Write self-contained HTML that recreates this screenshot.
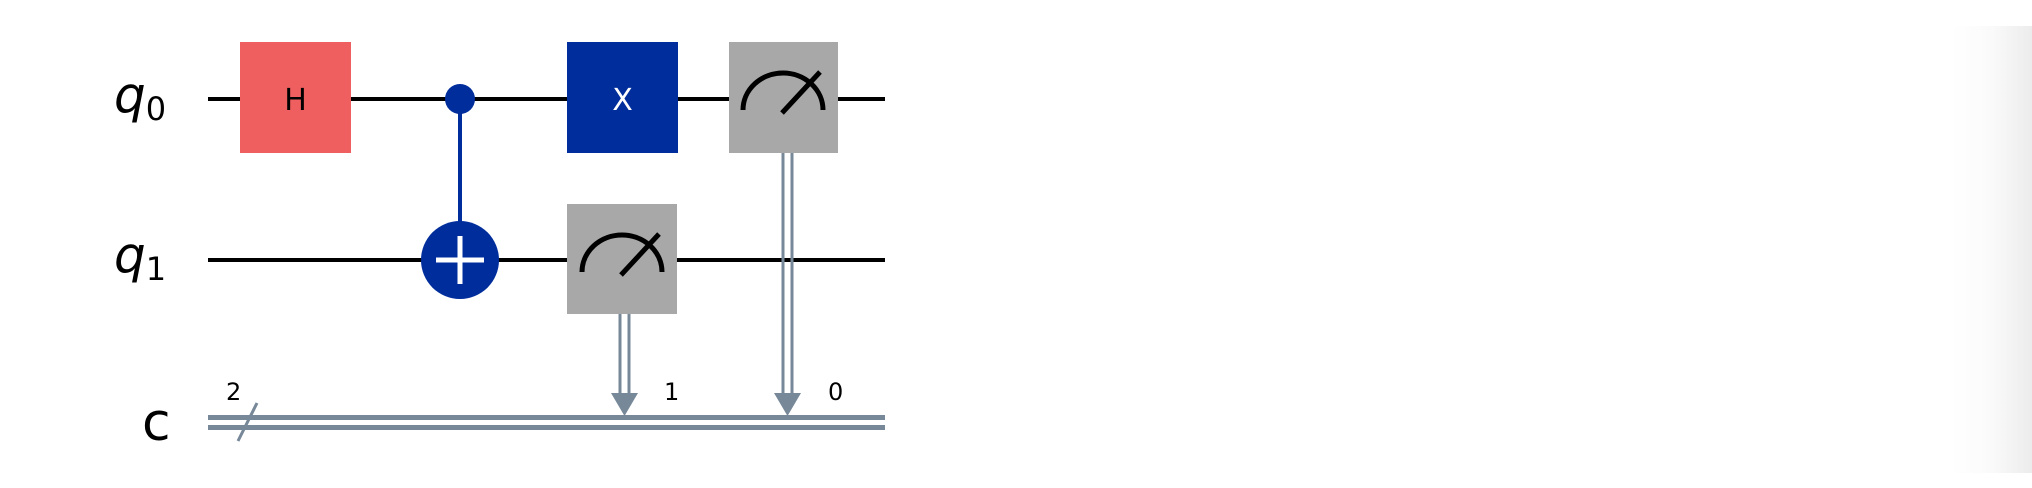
<!DOCTYPE html>
<html><head><meta charset="utf-8"><style>
html,body{margin:0;padding:0;background:#fff;width:2032px;height:488px;overflow:hidden}
svg{display:block}
text{font-family:"DejaVu Sans","Liberation Sans",sans-serif}
</style></head><body>
<svg width="2032" height="488" viewBox="0 0 2032 488">
<defs>
<linearGradient id="edge" x1="0" x2="1" y1="0" y2="0">
<stop offset="0" stop-color="#ffffff"/><stop offset="0.5" stop-color="#fafafa"/><stop offset="1" stop-color="#ececec"/>
</linearGradient>
</defs>
<rect x="1952" y="26" width="80" height="447" fill="url(#edge)"/>

<g>
<text x="114" y="112" font-size="50" font-style="italic">q<tspan font-size="32" font-style="normal" dy="8">0</tspan></text>
<text x="114" y="272" font-size="50" font-style="italic">q<tspan font-size="32" font-style="normal" dy="8">1</tspan></text>
<text x="142" y="440" font-size="52">c</text>
</g>

<line x1="208" y1="99" x2="885" y2="99" stroke="#000" stroke-width="4"/>
<line x1="208" y1="260" x2="885" y2="260" stroke="#000" stroke-width="4"/>
<g>
<line x1="208" y1="417.5" x2="885" y2="417.5" stroke="#778899" stroke-width="5"/>
<line x1="208" y1="427.5" x2="885" y2="427.5" stroke="#778899" stroke-width="5"/>
<line x1="238" y1="441" x2="257" y2="403" stroke="#778899" stroke-width="3"/>
<text x="226" y="400" font-size="24" fill="#000">2</text>
</g>

<g>
<rect x="240" y="42" width="111" height="111" fill="#ef5f5f"/>
<text x="295.5" y="110" font-size="30" text-anchor="middle" fill="#000">H</text>
</g>

<g>
<line x1="460" y1="99" x2="460" y2="245" stroke="#002d9c" stroke-width="4"/>
<circle cx="460" cy="99" r="15" fill="#002d9c"/>
<circle cx="460" cy="260" r="39" fill="#002d9c"/>
<line x1="436" y1="260" x2="484" y2="260" stroke="#fff" stroke-width="5"/>
<line x1="460" y1="236" x2="460" y2="284" stroke="#fff" stroke-width="5"/>
</g>

<g>
<rect x="567" y="42" width="111" height="111" fill="#002d9c"/>
<text x="622.5" y="110" font-size="30" text-anchor="middle" fill="#fff">X</text>
</g>

<g>
<rect x="567" y="204" width="110" height="110" fill="#a8a8a8"/>
<path d="M582 272 A40 37 0 0 1 662 272" fill="none" stroke="#000" stroke-width="5"/>
<line x1="621" y1="275" x2="659" y2="234" stroke="#000" stroke-width="5"/>
<line x1="620" y1="314" x2="620" y2="396" stroke="#778899" stroke-width="3"/>
<line x1="629" y1="314" x2="629" y2="396" stroke="#778899" stroke-width="3"/>
<polygon points="611,393 638,393 624.5,416" fill="#778899"/>
<text x="664" y="400" font-size="24">1</text>
</g>

<g>
<rect x="729" y="42" width="109" height="111" fill="#a8a8a8"/>
<path d="M743 110 A40 37 0 0 1 823 110" fill="none" stroke="#000" stroke-width="5"/>
<line x1="782" y1="113" x2="820" y2="72" stroke="#000" stroke-width="5"/>
<line x1="783" y1="153" x2="783" y2="396" stroke="#778899" stroke-width="3"/>
<line x1="792" y1="153" x2="792" y2="396" stroke="#778899" stroke-width="3"/>
<polygon points="774,393 801,393 787.5,416" fill="#778899"/>
<text x="828" y="400" font-size="24">0</text>
</g>
</svg>
</body></html>
